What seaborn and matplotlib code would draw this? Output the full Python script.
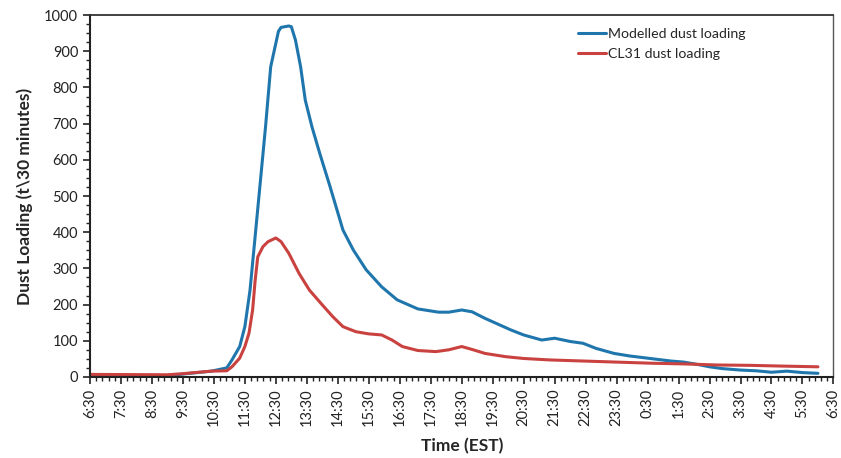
import pandas as pd
import matplotlib.pyplot as plt
import seaborn as sns
from matplotlib.ticker import MultipleLocator

# DATA (clock time EST, t per 30 minutes)
modelled_times = ["6:30", "9:00", "9:30", "10:25", "10:55", "11:05", "11:20", "11:30",
                  "11:40", "11:50", "12:10", "12:20", "12:35", "12:40", "12:55", "13:00",
                  "13:08", "13:18", "13:27", "13:40", "13:55", "14:15", "14:40", "15:00",
                  "15:25", "15:55", "16:25", "17:05", "17:45", "18:05", "18:30", "18:50",
                  "19:15", "19:40", "20:05", "20:30", "21:05", "21:30", "22:00", "22:25",
                  "22:50", "23:25", "23:55", "0:35", "1:15", "1:40", "2:05", "2:30",
                  "2:55", "3:30", "4:00", "4:30", "5:00", "5:30", "6:00"]
modelled_load = [3, 3, 8, 16, 25, 47, 84, 139,
                 240, 390, 691, 857, 955, 966, 970, 968,
                 931, 857, 765, 691, 618, 526, 406, 351,
                 296, 249, 213, 188, 179, 179, 185, 180,
                 162, 146, 130, 116, 102, 107, 98, 93,
                 79, 65, 58, 51, 44, 41, 35, 28,
                 23, 19, 17, 13, 16, 12, 10]

cl31_times = ["6:30", "9:00", "9:30", "10:25", "10:55", "11:05", "11:20", "11:30",
              "11:38", "11:45", "11:50", "11:55", "12:05", "12:15", "12:30", "12:40",
              "12:55", "13:15", "13:35", "14:00", "14:20", "14:40", "15:05", "15:30",
              "15:55", "16:15", "16:35", "17:05", "17:40", "18:05", "18:30", "18:50",
              "19:15", "19:55", "20:30", "21:20", "22:25", "23:30", "0:35", "1:40",
              "2:45", "3:50", "4:50", "6:00"]
cl31_load = [7, 6, 9, 16, 17, 28, 52, 84,
             121, 185, 268, 332, 360, 374, 384, 374,
             342, 286, 240, 199, 167, 139, 125, 119,
             116, 102, 84, 73, 70, 75, 84, 76,
             65, 56, 51, 47, 44, 41, 38, 36,
             33, 32, 30, 28]

series_names = ["Modelled dust loading", "CL31 dust loading"]
tick_labels = ["6:30", "7:30", "8:30", "9:30", "10:30", "11:30", "12:30", "13:30",
               "14:30", "15:30", "16:30", "17:30", "18:30", "19:30", "20:30", "21:30",
               "22:30", "23:30", "0:30", "1:30", "2:30", "3:30", "4:30", "5:30", "6:30"]


def minutes_from_start(s):
    '''minutes elapsed since 6:30 (wraps past midnight)'''
    h, m = map(int, s.split(':'))
    t = h * 60 + m - 390
    return t + 1440 if t < 0 else t


df = pd.concat([
    pd.DataFrame({'minutes': [minutes_from_start(t) for t in modelled_times],
                  'load': modelled_load, 'series': series_names[0]}),
    pd.DataFrame({'minutes': [minutes_from_start(t) for t in cl31_times],
                  'load': cl31_load, 'series': series_names[1]}),
])

sns.set_style("ticks")
plt.rcParams['font.family'] = ['Lato', 'DejaVu Sans']

fig = plt.figure(figsize=(8.41, 4.58), dpi=100)
ax = fig.add_axes([0.107, 0.177, 0.884, 0.790])

sns.lineplot(ax=ax, data=df, x='minutes', y='load', hue='series',
             palette={series_names[0]: '#1f76ad', series_names[1]: '#c94240'},
             linewidth=2.2)

ax.set_xlim(0, 1440)
ax.set_ylim(0, 1000)
ax.set_xticks(range(0, 1441, 60))
ax.set_xticklabels(tick_labels, rotation=90)
ax.xaxis.set_minor_locator(MultipleLocator(12))
ax.yaxis.set_major_locator(MultipleLocator(100))
ax.yaxis.set_minor_locator(MultipleLocator(25))
ax.tick_params(axis='both', which='major', labelsize=10.5, colors='#222222',
               length=5, width=1.2, direction='out')
ax.tick_params(axis='both', which='minor', length=3, width=1, direction='out',
               color='#222222')

for side in ['left', 'bottom']:
    ax.spines[side].set_linewidth(1.5)
    ax.spines[side].set_color('#222222')
ax.spines['top'].set_linewidth(1.3)
ax.spines['top'].set_color('#333333')
ax.spines['right'].set_linewidth(1)
ax.spines['right'].set_color('#555555')

ax.set_xlabel('Time (EST)', fontsize=12.5, fontweight='bold', labelpad=8)
ax.set_ylabel('Dust Loading (t\\30 minutes)', fontsize=12.5, fontweight='bold',
              labelpad=8)

ax.legend(loc='upper left', bbox_to_anchor=(0.639, 1.0), frameon=False,
          fontsize=10.2, handlelength=2.0, handletextpad=0.15, labelspacing=0.6)

fig.savefig('out.png', dpi=100, facecolor='white')
